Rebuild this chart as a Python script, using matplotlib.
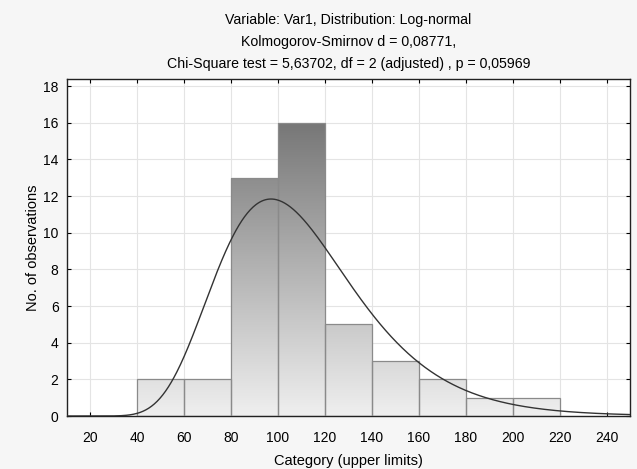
import numpy as np
import matplotlib
matplotlib.use("Agg")
import matplotlib.pyplot as plt
from matplotlib.colors import LinearSegmentedColormap

plt.rcParams['font.family'] = ['Liberation Sans', 'DejaVu Sans']

# Data
bin_lower = [40, 60, 80, 100, 120, 140, 160, 180, 200]
bin_upper = [60, 80, 100, 120, 140, 160, 180, 200, 220]
counts = [2, 2, 13, 16, 5, 3, 2, 1, 1]
x_ticks = [20, 40, 60, 80, 100, 120, 140, 160, 180, 200, 220, 240]
y_ticks = [0, 2, 4, 6, 8, 10, 12, 14, 16, 18]

ln_mu = 4.664
ln_sigma = 0.299
n_obs = sum(counts)
bin_width = 20

title = ("Variable: Var1, Distribution: Log-normal\n"
         "Kolmogorov-Smirnov d = 0,08771,\n"
         "Chi-Square test = 5,63702, df = 2 (adjusted) , p = 0,05969")

fig = plt.figure(figsize=(6.37, 4.69), dpi=100)
fig.patch.set_facecolor('#f6f6f6')
ax = fig.add_axes([0.105, 0.113, 0.884, 0.719])
ax.set_facecolor('white')

xmin, xmax, ymin, ymax = 10, 250, 0, 18.4
ax.set_xlim(xmin, xmax)
ax.set_ylim(ymin, ymax)

ax.set_xticks(x_ticks)
ax.set_yticks(y_ticks)
ax.grid(True, color='#e4e4e4', linewidth=0.8)
ax.set_axisbelow(True)

# gradient image (vertical, based on y)
cmap = LinearSegmentedColormap.from_list('g', ['#efefef', '#777777'])
grad = np.linspace(0, 1, 256).reshape(-1, 1)
top_val = 16 / ymax

bars = ax.bar(bin_lower, counts, width=bin_width, align='edge',
              facecolor='none', edgecolor='#8a8a8a', linewidth=0.9, zorder=3)
for b in bars:
    im = ax.imshow(grad, cmap=cmap, vmin=0, vmax=top_val, aspect='auto',
                   origin='lower', extent=[xmin, xmax, ymin, ymax], zorder=2)
    im.set_clip_path(b)

# fitted curve
xs = np.linspace(xmin, xmax, 600)
pdf = 1.0 / (xs * ln_sigma * np.sqrt(2 * np.pi)) * np.exp(-(np.log(xs) - ln_mu) ** 2 / (2 * ln_sigma ** 2))
ax.plot(xs, pdf * n_obs * bin_width, color='#333333', linewidth=1.0, zorder=4)

ax.set_xlim(xmin, xmax)
ax.set_ylim(ymin, ymax)

ax.tick_params(direction='in', length=3, top=True, right=True, labelsize=10, colors='black')
ax.tick_params(axis='x', pad=11)
ax.tick_params(axis='y', pad=6)
for s in ax.spines.values():
    s.set_color('#222222')
    s.set_linewidth(1.0)

ax.set_xlabel('Category (upper limits)', fontsize=10.5, labelpad=6)
ax.set_ylabel('No. of observations', fontsize=10.5, labelpad=2)
ax.set_title(title, fontsize=10.2, linespacing=1.72, pad=8)

fig.savefig('out.png', dpi=100, facecolor=fig.get_facecolor())
